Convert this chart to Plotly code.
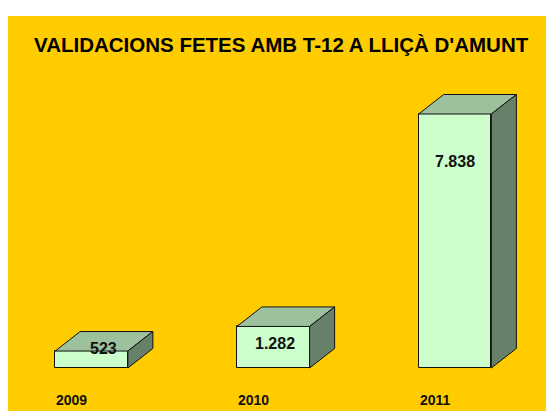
import plotly.graph_objects as go

# ---- data ----
categories = ["2009", "2010", "2011"]
values = [523, 1282, 7838]
value_labels = ["523", "1.282", "7.838"]
title_text = "VALIDACIONS FETES AMB T-12 A LLIÇÀ D'AMUNT"

# ---- style ----
YELLOW = "#FFCC00"
FRONT = "#CCFFCC"
TOP = "#9CC19C"
SIDE = "#66806A"
FONT = "Liberation Sans, Arial, sans-serif"
BAR_W = 0.4
DEPTH_X = 0.1376      # depth offset in category units
DEPTH_Y = 602         # depth offset in value units
LABEL_SHIFT = [(12, 3), (2, -17), (0, -47)]  # (xshift, yshift) px

# page has an 8px body margin; figure fills the rest of the 554x411 window
W, H = 546, 403
ML, MT = 0, 8

xs = list(range(len(categories)))

fig = go.Figure()

fig.add_trace(go.Bar(
    x=xs, y=values, width=BAR_W,
    marker=dict(color=FRONT, line=dict(color="#111111", width=1)),
    hoverinfo="skip", showlegend=False,
))

for x, v in zip(xs, values):
    l, r = x - BAR_W / 2, x + BAR_W / 2
    # top face
    fig.add_trace(go.Scatter(
        x=[l, r, r + DEPTH_X, l + DEPTH_X, l],
        y=[v, v, v + DEPTH_Y, v + DEPTH_Y, v],
        mode="lines", fill="toself", fillcolor=TOP,
        line=dict(color="#111111", width=1),
        hoverinfo="skip", showlegend=False,
    ))
    # side face
    fig.add_trace(go.Scatter(
        x=[r, r + DEPTH_X, r + DEPTH_X, r, r],
        y=[0, DEPTH_Y, v + DEPTH_Y, v, 0],
        mode="lines", fill="toself", fillcolor=SIDE,
        line=dict(color="#111111", width=1),
        hoverinfo="skip", showlegend=False,
    ))

annotations = []
for x, v, t, (sx, sy) in zip(xs, values, value_labels, LABEL_SHIFT):
    annotations.append(dict(
        x=x, y=v, xref="x", yref="y", text=t, showarrow=False,
        xshift=sx, yshift=sy, yanchor="middle",
        font=dict(family=FONT, size=16, color="#111111", weight="bold"),
    ))
for x, c in zip(xs, categories):
    annotations.append(dict(
        x=x - BAR_W / 2, y=0, xref="x", yref="y", text=c, showarrow=False,
        xanchor="left", yanchor="middle", xshift=-1, yshift=-32,
        font=dict(family=FONT, size=14, color="#111111", weight="bold"),
    ))
annotations.append(dict(
    x=0.5, y=(H - 36) / (H - MT), xref="paper", yref="paper", text=title_text,
    showarrow=False, xanchor="center", yanchor="middle",
    font=dict(family=FONT, size=20.5, color="#000000", weight="bold"),
))

px_per_cat = 181.75
px_per_val = 254 / 7838
plot_w = W - ML
plot_h = H - MT
x0 = (ML - 83.5) / px_per_cat
x_range = [x0, x0 + plot_w / px_per_cat]
y0 = -(H - 360) / px_per_val
y_range = [y0, y0 + plot_h / px_per_val]

fig.update_layout(
    width=W, height=H,
    margin=dict(l=ML, r=0, t=MT, b=0, pad=0),
    paper_bgcolor="white", plot_bgcolor=YELLOW,
    xaxis=dict(range=x_range, visible=False, fixedrange=True),
    yaxis=dict(range=y_range, visible=False, fixedrange=True),
    annotations=annotations,
    bargap=0,
)

fig.write_html("out.html")
